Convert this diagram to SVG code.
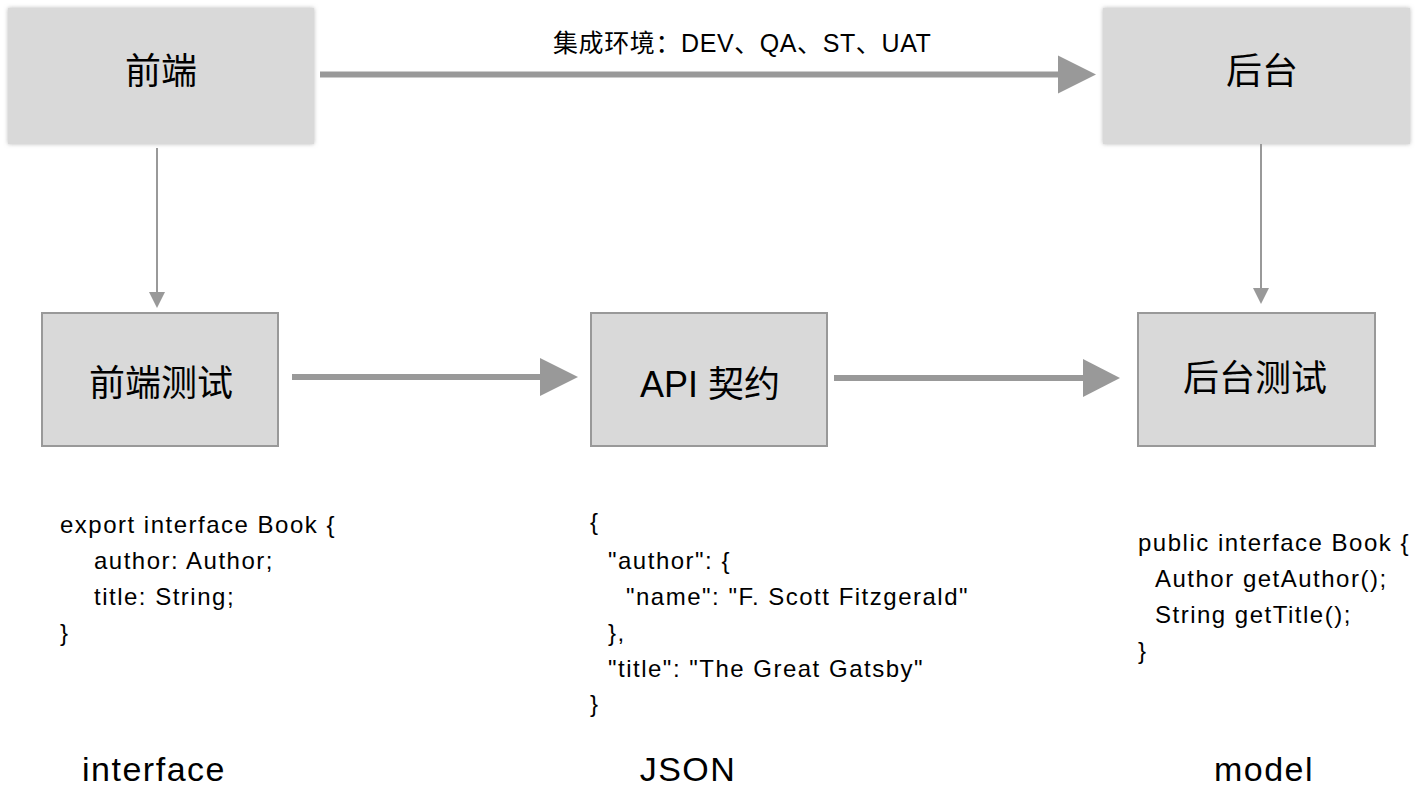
<svg xmlns="http://www.w3.org/2000/svg" width="1418" height="788" viewBox="0 0 1418 788">
<defs>
<filter id="soft" x="-10%" y="-10%" width="120%" height="120%">
<feDropShadow dx="0" dy="0" stdDeviation="2.2" flood-color="#9a9a9a" flood-opacity="0.7"/>
</filter>
<style>
.top{fill:#d9d9d9;filter:url(#soft)}
.box{fill:#d9d9d9;stroke:#999999;stroke-width:2}
.lbl{font-family:"Liberation Sans","Noto Sans CJK SC",sans-serif;font-size:36px;fill:#000;text-anchor:middle}
.code{font-family:"Liberation Sans","Noto Sans CJK SC",sans-serif;font-size:24px;fill:#000;letter-spacing:1.5px}
.cap{font-family:"Liberation Sans","Noto Sans CJK SC",sans-serif;font-size:34px;fill:#000;text-anchor:middle;letter-spacing:1.5px}
.thick{stroke:#999999;stroke-width:6;fill:none}
.thin{stroke:#999999;stroke-width:2;fill:none}
.head{fill:#999999}
</style>
</defs>
<rect width="1418" height="788" fill="#ffffff"/>
<g id="connectors">
<line class="thick" x1="320" y1="74.5" x2="1060" y2="74.5"/>
<polygon class="head" points="1058,55.5 1096,74.5 1058,93.5"/>
<line class="thin" x1="157" y1="148" x2="157" y2="293"/>
<polygon class="head" points="149,292 165,292 157,308"/>
<line class="thin" x1="1261" y1="143" x2="1261" y2="289"/>
<polygon class="head" points="1253,288 1269,288 1261,304"/>
<line class="thick" x1="292" y1="377" x2="542" y2="377"/>
<polygon class="head" points="540,358 578,377 540,396"/>
<line class="thick" x1="834" y1="378" x2="1085" y2="378"/>
<polygon class="head" points="1083,359 1120,378 1083,397"/>
<text x="553" y="52" style="font-family:'Liberation Sans','Noto Sans CJK SC',sans-serif;font-size:25px;fill:#000;letter-spacing:0.6px">集成环境：DEV、QA、ST、UAT</text>
</g>
<g id="frontend">
<rect class="top" x="8" y="8" width="306" height="136"/>
<text class="lbl" x="161" y="84">前端</text>
</g>
<g id="backend">
<rect class="top" x="1103" y="8" width="307" height="136"/>
<text class="lbl" x="1262" y="84">后台</text>
</g>
<g id="frontend-test">
<rect class="box" x="42" y="313" width="236" height="133"/>
<text class="lbl" x="161" y="396">前端测试</text>
</g>
<g id="api-contract">
<rect class="box" x="591" y="313" width="236" height="133"/>
<text class="lbl" x="710" y="397">API 契约</text>
</g>
<g id="backend-test">
<rect class="box" x="1138" y="313" width="237" height="133"/>
<text class="lbl" x="1255" y="391">后台测试</text>
</g>
<g id="code-interface">
<text class="code" x="60" y="533">export interface Book {</text>
<text class="code" x="94" y="569">author: Author;</text>
<text class="code" x="94" y="605">title: String;</text>
<text class="code" x="60" y="641">}</text>
<text class="cap" x="154" y="781">interface</text>
</g>
<g id="code-json">
<text class="code" x="590" y="530">{</text>
<text class="code" x="608" y="569">"author": {</text>
<text class="code" x="626" y="605">"name": "F. Scott Fitzgerald"</text>
<text class="code" x="608" y="641">},</text>
<text class="code" x="608" y="677">"title": "The Great Gatsby"</text>
<text class="code" x="590" y="712">}</text>
<text class="cap" x="688" y="781">JSON</text>
</g>
<g id="code-model">
<text class="code" x="1138" y="551">public interface Book {</text>
<text class="code" x="1155" y="587">Author getAuthor();</text>
<text class="code" x="1155" y="623">String getTitle();</text>
<text class="code" x="1138" y="659">}</text>
<text class="cap" x="1264" y="781">model</text>
</g>
</svg>
